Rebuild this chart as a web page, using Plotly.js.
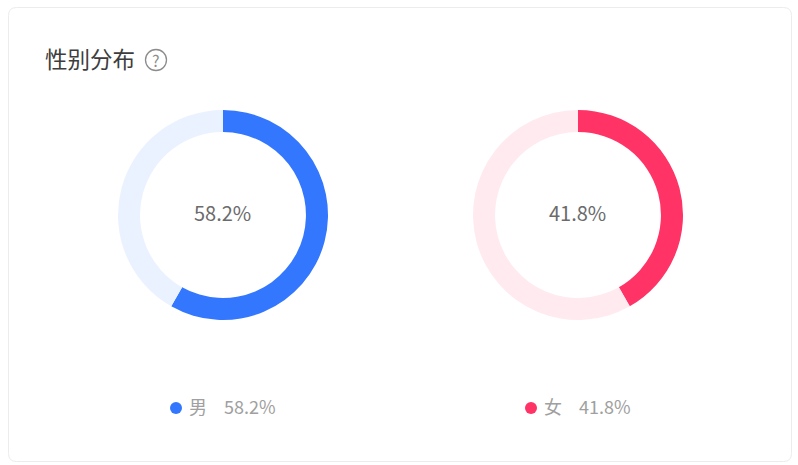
<!DOCTYPE html>
<html>
<head>
<meta charset="utf-8">
<script src="https://cdn.plot.ly/plotly-3.0.1.min.js"></script>
<style>html,body{margin:0;padding:0;background:#fff;overflow:hidden}#chart{width:798px;height:465px}</style>
</head>
<body>
<div id="chart"></div>
<script>
const chartTitle = "性别分布";
const categories = ["男", "女"];
const shares = [58.2, 41.8];
const mainColors = ["#3377ff", "#ff3366"];
const paleColors = ["#ebf2ff", "#ffeaf0"];

const W = 798, H = 465;
const FONT = '"Noto Sans CJK SC","Noto Sans",sans-serif';
const px = x => x / W;
const py = y => 1 - y / H;
const centers = [223, 578];
const centerText = [222.5, 577.5];
const legendDot = [176, 531];
const legendName = [187, 542];
const legendValue = [222, 576.5];
const CY = 215, R = 105;

const pad = v => v.toFixed(1) + "%";

const data = categories.map((c, i) => ({
  type: "pie",
  labels: [c, "其他"],
  values: [shares[i], +(100 - shares[i]).toFixed(1)],
  hole: 0.79,
  sort: false,
  direction: "clockwise",
  rotation: 0,
  textinfo: "none",
  hoverinfo: "label+percent",
  showlegend: false,
  marker: { colors: [mainColors[i], paleColors[i]], line: { width: 0 } },
  domain: { x: [px(centers[i] - R), px(centers[i] + R)], y: [py(CY + R), py(CY - R)] }
}));

const ann = (x, y, text, size, color, anchor) => ({
  xref: "paper", yref: "paper", x: px(x), y: py(y), text, showarrow: false,
  xanchor: anchor, yanchor: "middle", xshift: 0, yshift: 0,
  font: { family: FONT, size, color }
});

const annotations = [
  ann(42.5, 58, chartTitle, 22.5, "#3d3d3d", "left"),
  ann(156, 60, "?", 16, "#8c8c8c", "center")
];
const cardPath = (x0, y0, x1, y1, r) => {
  const X = v => px(v), Y = v => py(v);
  return `M${X(x0 + r)},${Y(y0)} L${X(x1 - r)},${Y(y0)} Q${X(x1)},${Y(y0)} ${X(x1)},${Y(y0 + r)} ` +
    `L${X(x1)},${Y(y1 - r)} Q${X(x1)},${Y(y1)} ${X(x1 - r)},${Y(y1)} L${X(x0 + r)},${Y(y1)} ` +
    `Q${X(x0)},${Y(y1)} ${X(x0)},${Y(y1 - r)} L${X(x0)},${Y(y0 + r)} Q${X(x0)},${Y(y0)} ${X(x0 + r)},${Y(y0)} Z`;
};
const shapes = [
  { type: "path", xref: "paper", yref: "paper", path: cardPath(8.5, 7.5, 791.5, 461.5, 8),
    line: { color: "#ececec", width: 1 }, fillcolor: "#ffffff", layer: "below" },
  { type: "circle", xref: "paper", yref: "paper", x0: px(145.5), x1: px(166.5), y0: py(70.5), y1: py(49.5),
    line: { color: "#8c8c8c", width: 1.3 }, fillcolor: "rgba(0,0,0,0)" }
];

categories.forEach((c, i) => {
  annotations.push(ann(centerText[i], 212, pad(shares[i]), 20, "#6b6b6b", "center"));
  annotations.push(ann(legendName[i], 406, c, 18, "#a0a0a0", "left"));
  annotations.push(ann(legendValue[i], 406, pad(shares[i]), 18, "#a0a0a0", "left"));
  shapes.push({ type: "circle", xref: "paper", yref: "paper",
    x0: px(legendDot[i] - 6), x1: px(legendDot[i] + 6), y0: py(408 + 6), y1: py(408 - 6),
    line: { width: 0 }, fillcolor: mainColors[i] });
});

Plotly.newPlot("chart", data, {
  width: W, height: H,
  margin: { l: 0, r: 0, t: 0, b: 0 },
  paper_bgcolor: "#ffffff",
  annotations, shapes
}, { displayModeBar: false, staticPlot: true });
</script>
</body>
</html>
